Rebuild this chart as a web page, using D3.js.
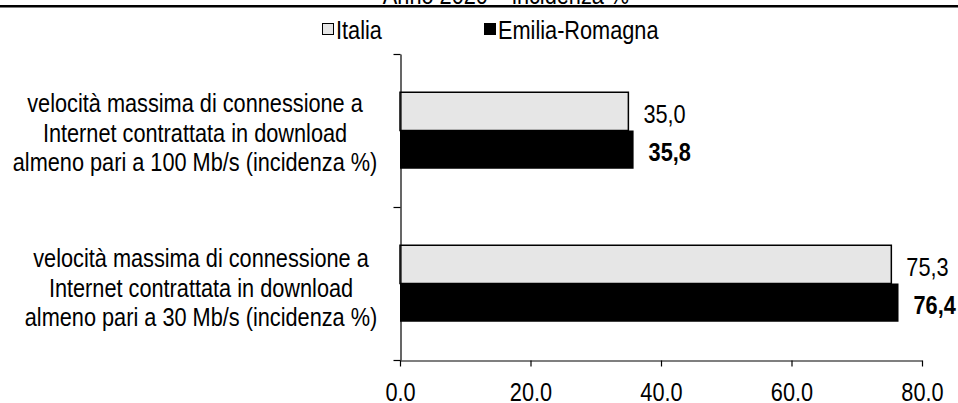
<!DOCTYPE html>
<html>
  <head>
    <meta charset="utf-8" />
    <script src="https://d3js.org/d3.v7.min.js"></script>
    <style>
      body {
        margin: 0;
        background: #ffffff;
      }
      svg text {
        font-family: "Liberation Sans", Arial, sans-serif;
        fill: #000000;
      }
    </style>
  </head>
  <body>
    <script>
      // Data
      const categories = [
        "velocità massima di connessione a\nInternet contrattata in download\nalmeno pari a 100 Mb/s (incidenza %)",
        "velocità massima di connessione a\nInternet contrattata in download\nalmeno pari a 30 Mb/s (incidenza %)",
      ];
      const series = ["Italia", "Emilia-Romagna"];
      const italiaValues = [35.0, 75.3];
      const emiliaValues = [35.8, 76.4];
      const xTicks = [0, 20, 40, 60, 80];
      const title = "Anno 2020 \u2013 incidenza %";

      const width = 958;
      const height = 403;
      const fontSize = 26.5;
      const narrow = 0.82; // the reference uses a narrow face, squeeze the sans

      // put a text at (px, py) and squeeze it horizontally
      function place(sel, px, py) {
        return sel.attr("transform", (d, i) => {
          const a = typeof px === "function" ? px(d, i) : px;
          const b = typeof py === "function" ? py(d, i) : py;
          return `translate(${a},${b}) scale(${narrow},1)`;
        });
      }

      const svg = d3
        .select("body")
        .append("svg")
        .attr("width", width)
        .attr("height", height);

      // Scales
      const x = d3.scaleLinear().domain([0, 80]).range([400, 922]);
      const y = d3
        .scaleBand()
        .domain(d3.range(categories.length))
        .range([54, 360])
        .padding(0);
      const ySeries = d3
        .scaleBand()
        .domain(series)
        .range([0, y.bandwidth()])
        .paddingInner(0)
        .paddingOuter(1);

      const colors = { Italia: "#e6e6e6", "Emilia-Romagna": "#000000" };

      // Build rows
      const rows = categories.map((c, i) => ({
        label: c,
        values: [
          { key: "Italia", value: italiaValues[i] },
          { key: "Emilia-Romagna", value: emiliaValues[i] },
        ],
      }));

      // Title (mostly cut at the top) and top rule
      svg
        .append("text")
        .attr("text-anchor", "middle")
        .attr("font-size", fontSize)
        .call(place, 506, 3.5)
        .text(title);

      svg
        .append("rect")
        .attr("x", 0)
        .attr("y", 5)
        .attr("width", width)
        .attr("height", 2.5)
        .attr("fill", "#000");

      // Legend
      const legendItems = [
        { key: "Italia", x: 322 },
        { key: "Emilia-Romagna", x: 484 },
      ];
      const legend = svg
        .selectAll(".legend")
        .data(legendItems)
        .enter()
        .append("g")
        .attr("class", "legend")
        .attr("transform", (d) => `translate(${d.x},23)`);
      legend
        .append("rect")
        .attr("x", 0.5)
        .attr("y", 0.5)
        .attr("width", 11)
        .attr("height", 11)
        .attr("fill", (d) => colors[d.key])
        .attr("stroke", "#000")
        .attr("stroke-width", 1);
      legend
        .append("text")
        .attr("font-size", fontSize)
        .call(place, 14, 16)
        .text((d) => d.key);

      // Bars
      const groups = svg
        .selectAll(".row")
        .data(rows)
        .enter()
        .append("g")
        .attr("class", "row")
        .attr("transform", (d, i) => `translate(0,${y(i)})`);

      groups
        .selectAll("rect")
        .data((d) => d.values)
        .enter()
        .append("rect")
        .attr("x", x(0))
        .attr("y", (d) => ySeries(d.key))
        .attr("width", (d) => x(d.value) - x(0))
        .attr("height", ySeries.bandwidth())
        .attr("fill", (d) => colors[d.key])
        .attr("stroke", (d) => (d.key === "Italia" ? "#000" : "none"))
        .attr("stroke-width", 1.5);

      // Value labels
      groups
        .selectAll(".value")
        .data((d) => d.values)
        .enter()
        .append("text")
        .attr("class", "value")
        .attr("font-size", fontSize)
        .attr("font-weight", (d) => (d.key === "Italia" ? "normal" : "bold"))
        .call(
          place,
          (d) => x(d.value) + 15,
          (d) => ySeries(d.key) + ySeries.bandwidth() / 2 + (d.key === "Italia" ? 12 : 11)
        )
        .text((d) => d3.format(".1f")(d.value).replace(".", ","));

      // Category labels
      groups
        .append("text")
        .attr("text-anchor", "middle")
        .attr("font-size", fontSize)
        .call(
          place,
          (d, i) => (i === 0 ? 195 : 201),
          (d, i) => y.bandwidth() / 2 + (i === 0 ? 11 : 13)
        )
        .selectAll("tspan")
        .data((d) => d.label.split("\n"))
        .enter()
        .append("tspan")
        .attr("x", 0)
        .attr("y", (d, i) => (i - 1) * 29.5)
        .text((d) => d);

      // Axes
      const xAxis = d3
        .axisBottom(x)
        .tickValues(xTicks)
        .tickFormat(d3.format(".1f"))
        .tickSize(6)
        .tickSizeOuter(0)
        .tickPadding(16);

      const gx = svg
        .append("g")
        .attr("transform", `translate(0,${y.range()[1] + 0.5})`)
        .call(xAxis);
      gx.selectAll("text")
        .attr("font-size", fontSize)
        .attr("font-family", null)
        .attr("transform", `scale(${narrow},1)`);
      gx.selectAll("line, path").attr("stroke", "#000").attr("stroke-width", 1.2);

      const yEdges = d3
        .scaleLinear()
        .domain([0, categories.length])
        .range(y.range());
      const yAxis = d3
        .axisLeft(yEdges)
        .tickValues(d3.range(categories.length + 1))
        .tickFormat("")
        .tickSize(7)
        .tickSizeOuter(0);
      const gy = svg
        .append("g")
        .attr("transform", `translate(${x(0) + 0.5},0)`)
        .call(yAxis);
      gy.selectAll("line, path").attr("stroke", "#000").attr("stroke-width", 1.2);
    </script>
  </body>
</html>
